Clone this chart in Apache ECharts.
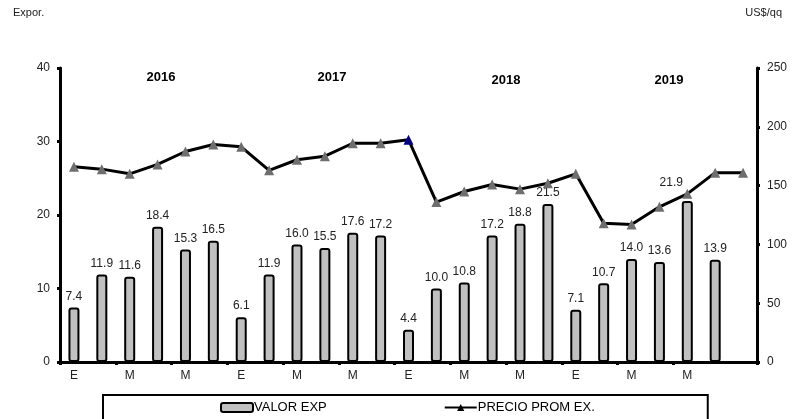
<!DOCTYPE html>
<html>
<head>
<meta charset="utf-8">
<script src="https://cdn.jsdelivr.net/npm/echarts@6/dist/echarts.min.js"></script>
<style>
  html, body { margin: 0; padding: 0; background: #fff; }
  #main { width: 802px; height: 419px; }
</style>
</head>
<body>
<div id="main"></div>
<script>
// meses (E..J por año), el último punto solo tiene precio
var meses = ['E','F','M','A','M','J', 'E','F','M','A','M','J',
             'E','F','M','A','M','J', 'E','F','M','A','M','J', 'J'];
var mesesVisibles = [0, 2, 4, 6, 8, 10, 12, 14, 16, 18, 20, 22];
var anios = ['2016', '2017', '2018', '2019'];

// valor de exportación (eje izq.)
var valorExp = [7.4, 11.9, 11.6, 18.4, 15.3, 16.5,
                6.1, 11.9, 16.0, 15.5, 17.6, 17.2,
                4.4, 10.0, 10.8, 17.2, 18.8, 21.5,
                7.1, 10.7, 14.0, 13.6, 21.9, 13.9, null];

// precio promedio US$/qq (eje der.)
var precioProm = [166, 164, 160, 168, 179, 185,
                  183, 163, 172, 175, 186, 186,
                  189, 136, 145, 151, 147, 152,
                  160, 118, 117, 132, 143, 161, 161];

var chart = echarts.init(document.getElementById('main'));

var barData = valorExp.map(function (v, i) {
  if (i === 22) {
    return { value: v, label: { offset: [-16, -7] } };
  }
  return v;
});
var lineData = precioProm.map(function (v, i) {
  if (i === 12) {
    return { value: v, itemStyle: { color: '#000080' } };
  }
  return v;
});

var fuente = 'Arial, "Liberation Sans", sans-serif';

chart.setOption({
  animation: false,
  textStyle: { fontFamily: fuente },
  grid: { left: 60, right: 45, top: 68, bottom: 57 },
  graphic: [
    { type: 'text', left: 13, top: 7, style: { text: 'Expor.', font: '11px ' + fuente, fill: '#222' } },
    { type: 'text', right: 20, top: 7, style: { text: 'US$/qq', font: '11px ' + fuente, fill: '#222' } },
    { type: 'text', x: 161, y: 77, style: { text: anios[0], font: 'bold 13px ' + fuente, fill: '#000', align: 'center', verticalAlign: 'middle' } },
    { type: 'text', x: 332, y: 77, style: { text: anios[1], font: 'bold 13px ' + fuente, fill: '#000', align: 'center', verticalAlign: 'middle' } },
    { type: 'text', x: 506, y: 80, style: { text: anios[2], font: 'bold 13px ' + fuente, fill: '#000', align: 'center', verticalAlign: 'middle' } },
    { type: 'text', x: 669, y: 80, style: { text: anios[3], font: 'bold 13px ' + fuente, fill: '#000', align: 'center', verticalAlign: 'middle' } }
  ],
  legend: {
    left: 103,
    top: 395,
    padding: [6, 113, 6, 117],
    itemGap: 117,
    itemWidth: 32,
    itemHeight: 9,
    borderColor: '#000',
    borderWidth: 2,
    textStyle: { fontSize: 13, color: '#000', padding: [0, 0, 0, -4] },
    data: [
      { name: 'VALOR EXP', itemStyle: { color: '#c0c0c0', borderColor: '#000', borderWidth: 2 } },
      { name: 'PRECIO PROM EX.', itemStyle: { color: '#000' } }
    ]
  },
  xAxis: {
    type: 'category',
    data: meses,
    axisLine: { lineStyle: { color: '#000', width: 3 } },
    axisTick: { show: true, length: 3, lineStyle: { color: '#000', width: 3 } },
    axisLabel: {
      color: '#222',
      fontSize: 12,
      margin: 8,
      interval: function (i) { return mesesVisibles.indexOf(i) >= 0; }
    }
  },
  yAxis: [
    {
      type: 'value',
      min: 0, max: 40, interval: 10,
      axisLine: { show: true, lineStyle: { color: '#000', width: 3 } },
      axisTick: { show: true, length: 3, lineStyle: { color: '#000', width: 3 } },
      axisLabel: { color: '#222', fontSize: 12, margin: 10 },
      splitLine: { show: false }
    },
    {
      type: 'value',
      min: 0, max: 250, interval: 50,
      axisLine: { show: true, lineStyle: { color: '#000', width: 3 } },
      axisTick: { show: true, length: 3, lineStyle: { color: '#000', width: 3 } },
      axisLabel: { color: '#222', fontSize: 12, margin: 10 },
      splitLine: { show: false }
    }
  ],
  series: [
    {
      name: 'VALOR EXP',
      type: 'bar',
      yAxisIndex: 0,
      data: barData,
      barWidth: 11,
      itemStyle: { color: '#c0c0c0', borderColor: '#000', borderWidth: 2, borderRadius: 2 },
      label: {
        show: true,
        position: 'top',
        distance: 5,
        color: '#222',
        fontSize: 12,
        formatter: function (p) { return p.value == null ? '' : p.value.toFixed(1); }
      },
      z: 2
    },
    {
      name: 'PRECIO PROM EX.',
      type: 'line',
      yAxisIndex: 1,
      data: lineData,
      symbol: 'triangle',
      symbolSize: 10,
      lineStyle: { color: '#000', width: 3 },
      itemStyle: { color: '#6e6e6e' },
      z: 3
    }
  ]
});
</script>
</body>
</html>
